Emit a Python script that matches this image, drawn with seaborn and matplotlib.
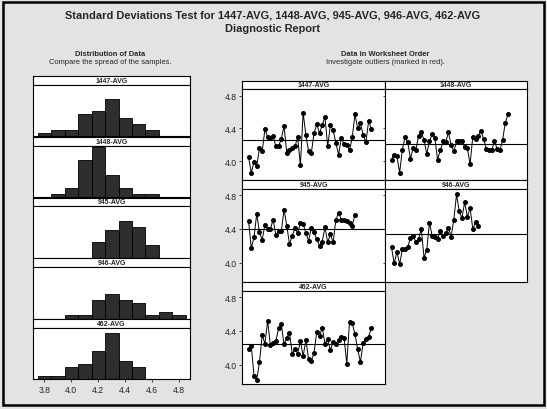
import matplotlib
matplotlib.use("Agg")
import matplotlib.pyplot as plt
import numpy as np
import seaborn as sns
from matplotlib.patches import Rectangle

sns.set_style("white")
plt.rcParams['font.family'] = ['Liberation Sans', 'DejaVu Sans']

names = ["1447-AVG", "1448-AVG", "945-AVG", "946-AVG", "462-AVG"]

# histogram counts, bins 0.1 wide, centres 3.8 .. 4.8
bin_centers = [3.8, 3.9, 4.0, 4.1, 4.2, 4.3, 4.4, 4.5, 4.6, 4.7, 4.8]
bin_edges = [3.75, 3.85, 3.95, 4.05, 4.15, 4.25, 4.35, 4.45, 4.55, 4.65, 4.75, 4.85]
hist_1447 = [1, 2, 2, 7, 8, 12, 6, 4, 2, 0, 0]
hist_1448 = [0, 1, 3, 12, 16, 7, 3, 1, 1, 0, 0]
hist_945 = [0, 0, 0, 0, 5, 9, 12, 10, 4, 0, 0]
hist_946 = [0, 0, 1, 1, 6, 8, 6, 5, 1, 2, 1]
hist_462 = [1, 1, 4, 5, 9, 15, 6, 4, 0, 0, 0]

# values in worksheet order
ts_1447 = [4.05, 3.86, 3.99, 3.94, 4.16, 4.12, 4.39, 4.29, 4.28, 4.31,
           4.18, 4.18, 4.27, 4.43, 4.10, 4.14, 4.16, 4.18, 4.29, 3.95,
           4.59, 4.32, 4.12, 4.10, 4.34, 4.45, 4.34, 4.44, 4.54, 4.18,
           4.44, 4.38, 4.22, 4.08, 4.28, 4.21, 4.20, 4.13, 4.29, 4.57,
           4.40, 4.46, 4.32, 4.23, 4.49, 4.39]
ts_1448 = [4.02, 4.08, 4.06, 3.86, 4.14, 4.29, 4.23, 4.03, 4.16, 4.14,
           4.31, 4.35, 4.26, 4.09, 4.24, 4.33, 4.28, 4.02, 4.13, 4.24,
           4.23, 4.35, 4.20, 4.12, 4.24, 4.24, 4.24, 4.17, 4.16, 3.96,
           4.30, 4.27, 4.31, 4.37, 4.27, 4.15, 4.14, 4.14, 4.24, 4.15,
           4.13, 4.26, 4.47, 4.57]
ts_945 = [4.50, 4.17, 4.30, 4.58, 4.36, 4.27, 4.45, 4.40, 4.40, 4.51,
          4.33, 4.37, 4.37, 4.63, 4.44, 4.22, 4.32, 4.41, 4.35, 4.47,
          4.46, 4.35, 4.26, 4.41, 4.36, 4.28, 4.20, 4.25, 4.42, 4.24,
          4.34, 4.24, 4.51, 4.59, 4.51, 4.51, 4.49, 4.47, 4.44, 4.57]
ts_946 = [4.18, 3.99, 4.13, 3.98, 4.16, 4.16, 4.19, 4.29, 4.32, 4.24,
          4.28, 4.40, 4.06, 4.15, 4.47, 4.32, 4.30, 4.28, 4.38, 4.32,
          4.35, 4.41, 4.31, 4.51, 4.81, 4.61, 4.53, 4.72, 4.54, 4.65,
          4.40, 4.48, 4.44]
ts_462 = [4.18, 4.22, 3.87, 3.82, 4.03, 4.35, 4.25, 4.52, 4.23, 4.26,
          4.28, 4.43, 4.48, 4.24, 4.32, 4.38, 4.13, 4.18, 4.13, 4.28,
          4.10, 4.29, 4.07, 4.04, 4.14, 4.39, 4.34, 4.44, 4.25, 4.30,
          4.17, 4.27, 4.25, 4.29, 4.33, 4.32, 4.01, 4.51, 4.49, 4.36,
          4.18, 4.03, 4.26, 4.31, 4.33, 4.44]

hists = [hist_1447, hist_1448, hist_945, hist_946, hist_462]
series = [ts_1447, ts_1448, ts_945, ts_946, ts_462]

W, H = 547, 410
BG = "#e3e3e3"
BAR = "#2e2e2e"


def box(x0, y0, x1, y1):
    # pixel box -> figure fraction
    return [x0 / W, 1 - y1 / H, (x1 - x0) / W, (y1 - y0) / H]


def header(x0, y0, x1, y1, label):
    hax = fig.add_axes(box(x0, y0, x1, y1))
    hax.set_facecolor("white")
    hax.set_xticks([])
    hax.set_yticks([])
    for s in hax.spines.values():
        s.set_linewidth(0.8)
        s.set_color("black")
    hax.text(0.5, 0.5, label, ha="center", va="center", fontsize=5,
             fontweight="bold", transform=hax.transAxes)


def frame(ax):
    for s in ax.spines.values():
        s.set_visible(True)
        s.set_linewidth(0.8)
        s.set_color("black")


fig = plt.figure(figsize=(W / 100, H / 100), dpi=100)
fig.patch.set_facecolor(BG)
fig.patches.append(Rectangle((3 / W, 1 - 406 / H), 541 / W, 403 / H,
                             transform=fig.transFigure, fill=False,
                             edgecolor="black", linewidth=1.8))

fig.text(273 / W, 1 - 16 / H,
         "Standard Deviations Test for 1447-AVG, 1448-AVG, 945-AVG, 946-AVG, 462-AVG",
         ha="center", va="center", fontsize=7.9, fontweight="bold")
fig.text(273 / W, 1 - 29 / H, "Diagnostic Report", ha="center", va="center",
         fontsize=7.9, fontweight="bold")

fig.text(110 / W, 1 - 55 / H, "Distribution of Data", ha="center", va="center",
         fontsize=5.4, fontweight="bold")
fig.text(110 / W, 1 - 63 / H, "Compare the spread of the samples.", ha="center",
         va="center", fontsize=5.4)
fig.text(385 / W, 1 - 55 / H, "Data in Worksheet Order", ha="center", va="center",
         fontsize=5.4, fontweight="bold")
fig.text(385 / W, 1 - 63 / H, "Investigate outliers (marked in red).", ha="center",
         va="center", fontsize=5.4)

# left column: histograms
for i, (name, counts) in enumerate(zip(names, hists)):
    top = 77 + i * 60.8
    header(33, top, 190, top + 8.7, name)
    ax = fig.add_axes(box(33, top + 8.7, 190, top + 60.2))
    ax.set_facecolor("white")
    sns.histplot(x=bin_centers, weights=counts, bins=bin_edges, ax=ax,
                 color=BAR, edgecolor="black", linewidth=0.6, alpha=1)
    ax.set_xlim(3.716, 4.88)
    ax.set_ylim(0, 16.6)
    ax.set_ylabel("")
    ax.set_xlabel("")
    ax.set_yticks([])
    frame(ax)
    if i == len(names) - 1:
        ax.set_xticks([3.8, 4.0, 4.2, 4.4, 4.6, 4.8])
        ax.set_xticklabels(["3.8", "4.0", "4.2", "4.4", "4.6", "4.8"])
        ax.tick_params(axis="x", direction="out", length=2.5, width=0.6,
                       labelsize=6.2, pad=1.5, bottom=True)
    else:
        ax.set_xticks([])

# right: time series panels
cols = [(242, 385), (385, 527)]
rows = [(82, 90, 181), (181, 189.5, 283), (283, 291.5, 385)]
grid = [(0, 0), (0, 1), (1, 0), (1, 1), (2, 0)]

for name, vals, (r, c) in zip(names, series, grid):
    x0, x1 = cols[c]
    htop, ptop, pbot = rows[r]
    header(x0, htop, x1, ptop, name)
    ax = fig.add_axes(box(x0, ptop, x1, pbot))
    ax.set_facecolor("white")
    idx = np.arange(1, len(vals) + 1)
    sns.lineplot(x=idx, y=vals, ax=ax, color="black", linewidth=0.7,
                 marker="o", markersize=2.8, markeredgecolor="black")
    ax.axhline(np.mean(vals), color="black", linewidth=0.8)
    ax.set_xlim(-1.4, 51)
    ax.set_ylim(3.77, 4.88)
    ax.set_xticks([])
    ax.set_yticks([4.0, 4.4, 4.8])
    ax.set_xlabel("")
    ax.set_ylabel("")
    frame(ax)
    ax.tick_params(axis="y", direction="out", length=2.5, width=0.6,
                   labelsize=6.2, pad=1.5, left=True)
    if c == 1:
        ax.set_yticklabels([])
        ax.tick_params(axis="y", length=1.5)
    else:
        ax.set_yticklabels(["4.0", "4.4", "4.8"])

fig.savefig("out.png", dpi=100, facecolor=BG)
